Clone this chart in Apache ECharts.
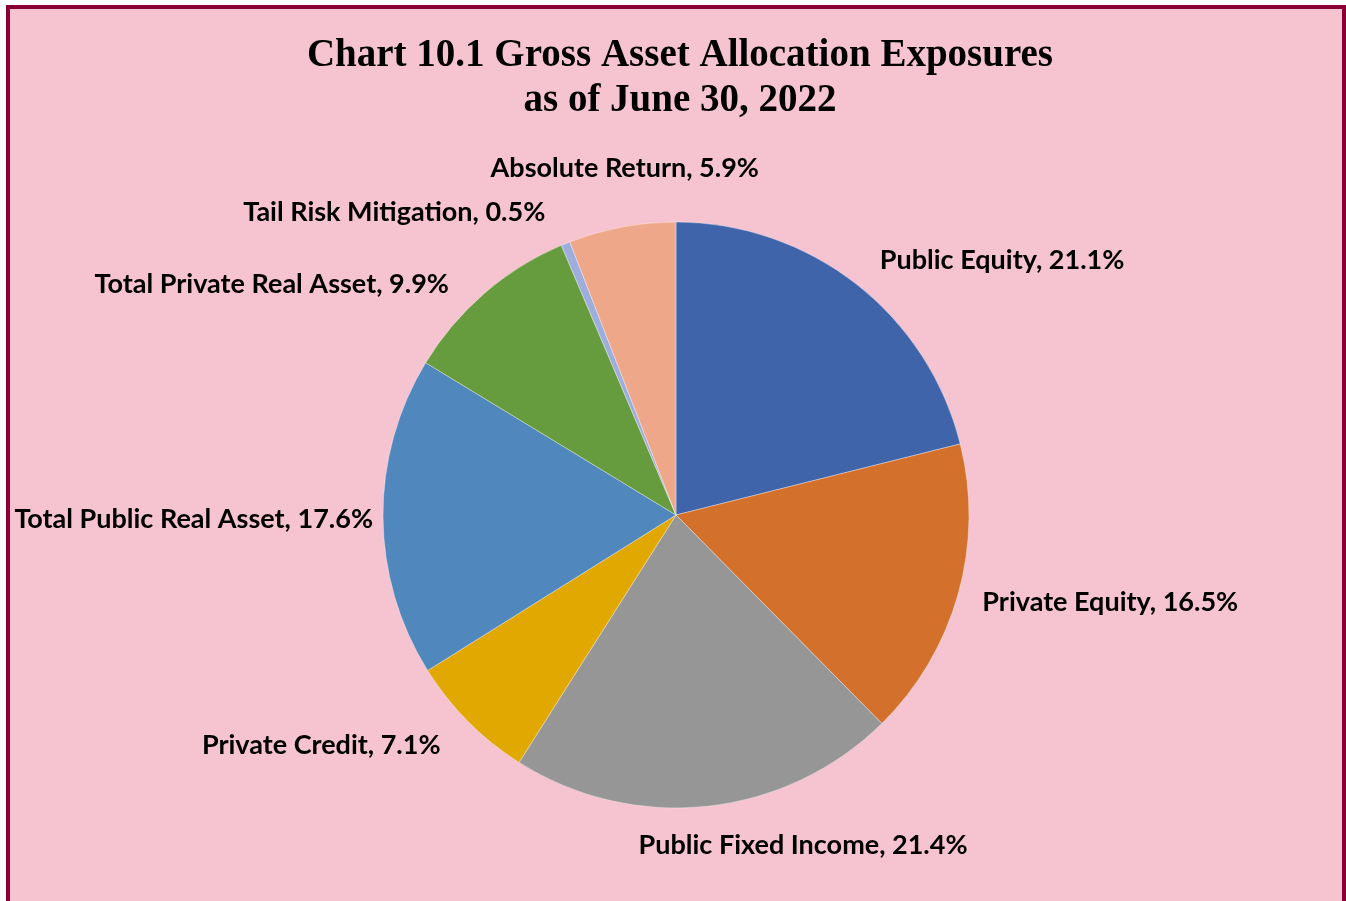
<!DOCTYPE html>
<html>
<head>
<meta charset="utf-8">
<script src="https://cdn.jsdelivr.net/npm/echarts@6/dist/echarts.min.js"></script>
<style>
  html, body { margin: 0; padding: 0; background: #ffffff; width: 1346px; height: 901px; overflow: hidden; }
  #frame { position: absolute; left: 6px; top: 5px; width: 1340px; height: 1000px; box-sizing: border-box;
           border: 4px solid #8B0033; background: #F6C4D0; }
  #chart { position: absolute; left: 0; top: 0; width: 1346px; height: 901px; }
</style>
</head>
<body>
<div id="frame"></div>
<div id="chart"></div>
<script>
const titleLines = ['Chart 10.1 Gross Asset Allocation Exposures', 'as of June 30, 2022'];
const categories = ['Public Equity', 'Private Equity', 'Public Fixed Income', 'Private Credit',
  'Total Public Real Asset', 'Total Private Real Asset', 'Tail Risk Mitigation', 'Absolute Return'];
const values = [21.1, 16.5, 21.4, 7.1, 17.6, 9.9, 0.5, 5.9];
const colors = ['#3F64AA', '#D2702C', '#969696', '#E0A800', '#5087BC', '#669C3E', '#9EAEDC', '#EFA78A'];
// label nudges (style only)
const labelOffsets = [[0, -6], [-7, 2], [-81, 17], [-2, 8], [22, 2], [-11, 8], [-2, -11], [151, -37]];

const chart = echarts.init(document.getElementById('chart'), null, { renderer: 'canvas' });
chart.setOption({
  backgroundColor: 'transparent',
  animation: false,
  title: {
    text: titleLines.join('\n'),
    left: 675, top: 28, textAlign: 'center',
    textStyle: { fontFamily: 'Liberation Serif', fontWeight: 'bold', fontSize: 39, lineHeight: 45, color: '#000' }
  },
  series: [{
    type: 'pie',
    center: [676, 515],
    radius: 293,
    startAngle: 90,
    clockwise: true,
    avoidLabelOverlap: false,
    data: categories.map((c, i) => ({
      name: c, value: values[i],
      itemStyle: { color: colors[i] },
      label: { offset: labelOffsets[i] }
    })),
    itemStyle: { borderColor: 'rgba(255,255,255,0.35)', borderWidth: 1 },
    label: {
      show: true, position: 'outside',
      formatter: p => p.name + ', ' + p.value.toFixed(1) + '%',
      fontFamily: 'Lato', fontWeight: 'bold', fontSize: 27, color: '#000'
    },
    labelLayout: { hideOverlap: false },
    labelLine: { show: false, length: 22, length2: 5 },
    emphasis: { disabled: true }
  }]
});
</script>
</body>
</html>
